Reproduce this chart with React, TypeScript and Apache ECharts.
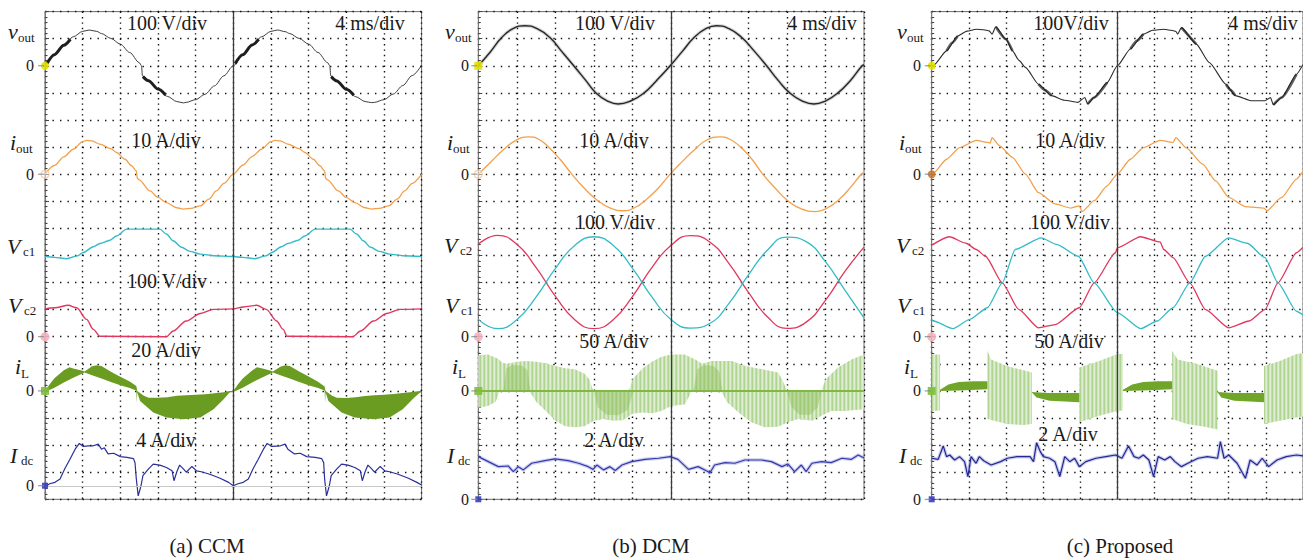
import React, { useEffect, useRef } from "react";
import * as echarts from "echarts";

type Pt = [number, number];
type Band = { upper: Pt[]; lower: Pt[] };

// time base: 4 ms/div, 10 divisions
const timeTicks = [0, 40, 4];

// ---------------- (a) CCM ----------------
const voutCCM: Pt[] = [
  [0, 0], [1, 41], [2, 76], [3, 107], [4, 127], [4.7, 132], [5.5, 127], [6, 119], [7, 101], [8, 80], [9, 49], [10, 12], [10.25, 0], [10.35, -37], [11, -55], [12, -86], [13, -113], [14, -132], [14.7, -137], [15, -135], [16, -125], [17, -105], [18, -74], [19, -37], [20, 0],
  [21, 41], [22, 77], [23, 107], [24, 127], [24.7, 132], [25.5, 126], [26, 119], [27, 101], [28, 80], [29, 49], [30, 12], [30.25, 0], [30.35, -37], [31, -56], [32, -87], [33, -114], [34, -132], [34.7, -136], [35, -135], [36, -125], [37, -104], [38, -73], [39, -36], [40, 2],
];
const voutCCMRipple: Pt[][] = [
  [[0.2, 8], [1, 41], [2, 76], [2.7, 98]],
  [[10.4, -40], [11, -55], [12, -86], [12.8, -108]],
  [[20.2, 8], [21, 41], [22, 77], [22.7, 98]],
  [[30.4, -40], [31, -56], [32, -87], [32.8, -109]],
];
const ioutCCM: Pt[] = [
  [0, 0], [1, 3.2], [2, 6.4], [3, 9.2], [4, 12], [4.4, 12.5], [5, 12.3], [5.8, 11.1], [7, 9.4], [7.6, 8], [8.5, 5.5], [9.2, 3.1], [9.7, 1.2], [9.8, -1.5], [10, -2.1], [11.15, -6.2], [12, -8.6], [12.9, -10.5], [14, -12.4], [14.7, -12.9], [15.5, -12.6], [16.5, -11.7], [17.4, -9.2], [18.2, -6.2], [19, -3.4], [20, 0],
  [21, 3.3], [22, 6.5], [23, 9.2], [24, 12], [24.4, 12.5], [25, 12.3], [25.8, 11.1], [27, 9.4], [27.6, 8], [28.5, 5.5], [29.2, 3.1], [29.7, 1.2], [29.8, -1.5], [30, -2.1], [31.15, -6.2], [32, -8.6], [32.9, -10.5], [34, -12.4], [34.7, -12.9], [35.5, -12.6], [36.5, -11.7], [37.4, -9.2], [38.2, -6.2], [39, -3.4], [40, 0],
];
const vc1CCM: Pt[] = [
  [0, 296], [1, 293], [2.3, 288], [3.5, 299], [4.07, 311], [5.13, 332], [5.84, 344], [6.9, 356], [7.6, 372], [8.67, 397], [12.2, 397], [12.9, 379], [13.6, 354], [14.5, 330], [15.4, 315], [16.5, 305], [17.9, 299], [20, 296],
  [21, 293], [22.3, 288], [23.5, 299], [24.1, 311], [25.1, 332], [25.8, 344], [26.9, 356], [27.6, 372], [28.7, 397], [32.4, 397], [33.1, 379], [33.8, 354], [34.6, 330], [35.5, 315], [36.6, 305], [38, 299], [40, 296],
];
const vc2CCM: Pt[] = [
  [0, 103], [1.06, 107], [2.48, 116], [3.36, 107], [4.42, 64], [5.13, 27], [5.84, 2], [12.9, 0], [13.6, 21], [15, 58], [16.5, 86], [17.9, 101], [20, 103],
  [21.06, 110], [22.5, 116], [23.5, 101], [24.6, 58], [25.3, 27], [25.7, 2], [32.7, 0], [33.5, 21], [34.9, 58], [36.3, 86], [37.7, 101], [40, 103],
];
const iLCCMUpper: Pt[] = [
  [0, 0], [0.5, 5], [1, 9.4], [2, 15.2], [2.6, 17.4], [3, 16.6], [4, 14.8], [4.2, 14.4], [5, 18.2], [5.5, 19], [6, 18.4], [7, 14.2], [8, 10.4], [9, 7], [9.7, 3.6], [9.8, 0], [10.5, -3.6], [11, -5], [12, -5], [13, -4.6], [14, -3.6], [15, -3.2], [16, -2.8], [17, -2.4], [18, -1.8], [19, -1], [19.6, 0], [20, 0],
  [20.5, 5], [21, 9.2], [22, 15], [22.5, 17.4], [23, 16.8], [23.9, 15], [24.2, 14.4], [25, 17.8], [25.5, 19], [26, 18.4], [27, 14.4], [28, 10.6], [29, 6.8], [29.7, 3.2], [29.8, 0], [30.5, -3.6], [31, -5], [32, -5.2], [33, -4.6], [34, -3.8], [35, -3.2], [36, -2.8], [37, -2.2], [38, -1.6], [39, -0.8], [39.8, 0], [40, 0],
];
const iLCCMLower: Pt[] = [
  [0, -0.8], [1, 2.4], [2, 6.2], [3, 9.8], [4.2, 13.6], [5, 11.6], [6, 9.2], [7, 6.6], [8, 4.2], [9, 2.2], [9.7, 0.4], [9.75, -9], [9.8, -1], [10.1, -7.4], [11.5, -16], [12.9, -19.6], [14.7, -21], [16.5, -19.6], [17.9, -13.6], [19, -6], [19.6, -1.2], [20, -0.8],
  [21, 2.4], [22, 6.2], [23, 9.8], [24.2, 13.6], [25, 11.6], [26, 9.2], [27, 6.6], [28, 4.2], [29, 2.2], [29.7, 0.4], [29.75, -9], [29.8, -1], [30.1, -7.4], [31.5, -16], [32.9, -19.6], [34.9, -21], [36.6, -19.6], [38, -13.6], [39.2, -5], [39.9, -0.8], [40, 0],
];
const idcCCM: Pt[] = [
  [0, -0.1], [0.5, 0.3], [1.06, 0.5], [1.6, 1.0], [2.1, 2.5], [2.65, 3.9], [3.2, 5.4], [3.65, 6.25], [4.07, 5.8], [4.6, 5.9], [5.13, 5.9], [5.66, 6.15], [6.0, 5.4], [6.3, 5.6], [6.7, 4.7], [7.3, 4.8], [8, 4.3], [8.7, 4.2], [9.4, 4.0], [9.56, 3.4], [9.7, 1.0], [9.9, -1.5], [10.2, 0], [10.4, 1.5], [11, 2.5], [11.5, 3.2], [12.2, 3.05], [12.9, 2.7], [13.5, 2.2], [13.7, 0.74], [14, 2.07], [14.3, 3.05], [14.7, 2.5], [15, 2.0], [15.6, 2.85], [16.1, 2.2], [16.6, 2.07], [17.5, 1.7], [18.6, 1.1], [19.5, 0.5], [20, 0],
  [20.5, 0.3], [21.06, 0.5], [21.6, 1.0], [22.1, 2.5], [22.65, 3.9], [23.2, 5.4], [23.6, 6.25], [24.1, 5.8], [25, 5.9], [25.5, 6.15], [25.8, 5.4], [26.5, 4.7], [27.1, 4.8], [27.8, 4.3], [28.7, 4.2], [29.4, 4.0], [29.6, 3.4], [29.7, 1.0], [29.9, -1.5], [30.2, 0], [30.4, 1.5], [31, 2.5], [31.5, 3.2], [32.2, 3.05], [32.9, 2.7], [33.5, 2.2], [33.7, 0.74], [34, 2.07], [34.3, 3.05], [34.7, 2.5], [35, 2.0], [35.6, 2.85], [36.1, 2.2], [36.6, 2.07], [37.5, 1.7], [38.6, 1.1], [39.5, 0.5], [40, 0.1],
];

// ---------------- (b) DCM ----------------
const voutDCM: Pt[] = [
  [0, 0], [1.2, 49], [2.45, 105], [3.6, 137], [4.85, 148], [6.1, 137], [7.4, 105], [8.6, 55], [9.9, 0], [11.1, -52], [12.2, -100], [13.4, -130], [14.5, -141], [15.8, -130], [17.2, -100], [18.5, -54], [19.9, 0],
  [21.2, 55], [22.4, 105], [23.6, 137], [24.7, 148], [26, 137], [27.3, 105], [28.6, 55], [29.9, 0], [31.1, -54], [32.3, -100], [33.6, -130], [34.8, -141], [36, -130], [37.3, -100], [38.6, -54], [39.8, 0], [40, 3],
];
const ioutDCM: Pt[] = [
  [0, 0], [1.3, 4.5], [2.6, 9.0], [3.9, 12.5], [5.2, 13.8], [6.3, 12.8], [7.4, 9.6], [8.5, 5.4], [9.7, 0], [11, -5.2], [12.3, -9.5], [13.7, -12.5], [15, -13.5], [16.2, -12.4], [17.4, -9.4], [18.7, -5], [19.9, 0],
  [21.2, 4.8], [22.5, 9.3], [23.7, 12.6], [25, 13.8], [26.1, 12.9], [27.2, 10], [28.4, 5.4], [29.5, 0], [30.8, -5.2], [32.1, -9.8], [33.5, -12.8], [35, -13.8], [36.2, -12.5], [37.4, -9.4], [38.6, -4.9], [39.6, -0.5], [40, 0.8],
];
const vc2DCM: Pt[] = [
  [0, 341], [2, 374], [4, 341], [6, 255], [8, 149], [10, 63], [12, 30], [14, 63], [16, 149], [18, 255], [20, 338],
  [22, 373], [24, 350], [26, 270], [28, 165], [30, 73], [32, 31], [34, 54], [36, 134], [38, 240], [40, 331],
];
const vc1DCM: Pt[] = [
  [0, 64], [2, 30], [4, 63], [6, 147], [8, 252], [10, 337], [12, 369], [14, 337], [16, 252], [18, 147], [20, 63],
  [22, 32], [24, 49], [26, 123], [28, 227], [30, 320], [32, 368], [34, 351], [36, 277], [38, 173], [40, 70],
];
const iLDCMUpper: Pt[] = [
  [0, 66], [1, 67], [2, 60], [2.5, 52], [3, 50], [4, 54], [5, 55], [6, 54], [7, 51], [8, 46], [9, 42], [10, 40], [11, 32], [11.5, 22], [11.9, 1], [15.5, 1], [15.7, 5], [16, 22], [17, 41], [18, 54], [19, 63], [20, 67],
  [21.4, 67], [22.5, 58], [23.2, 50], [24.2, 55], [26.3, 55], [27.7, 46], [29.4, 40], [31.1, 34], [31.6, 18], [32, 1], [35.6, 1], [36, 21], [37.3, 43], [38.7, 58], [40, 67],
];
const iLDCMLower: Pt[] = [
  [0, -31], [1, -28], [1.8, -20], [2.2, -2], [5.3, -2], [5.4, -3], [6, -20], [7, -37], [8, -55], [9, -65], [10, -67], [11, -65], [12, -55], [13, -52], [14, -55], [15, -54], [15.5, -48], [16, -42], [17, -40], [18, -41], [19, -37], [20, -28],
  [21.4, -25], [21.9, -9], [22.1, -1], [25.2, -1], [25.8, -21], [27, -40], [28.3, -58], [29.7, -67], [31.1, -66], [32.1, -58], [33.2, -52], [34.6, -55], [35.6, -46], [36.6, -37], [38, -37], [40, -34],
];
const iLDCMDense: Band[] = [
  { upper: [[2.6, 0], [2.9, 42], [3.5, 48], [4.5, 47], [5.1, 38], [5.4, 0]], lower: [[2.6, 0], [5.4, 0]] },
  { upper: [[12, 0], [16.1, 0]], lower: [[12, 0], [12.4, -30], [13.3, -44], [14.5, -45], [15.5, -35], [16.1, 0]] },
  { upper: [[22.3, 0], [22.7, 40], [23.4, 48], [24.4, 46], [25, 36], [25.3, 0]], lower: [[22.3, 0], [25.3, 0]] },
  { upper: [[32, 0], [35.6, 0]], lower: [[32, 0], [32.5, -30], [33.3, -44], [34.4, -44], [35.2, -30], [35.6, 0]] },
];
const idcDCM: Pt[] = [
  [0, 3.15], [1.04, 2.78], [2.07, 2.41], [3.1, 2.46], [3.63, 2.04], [4.15, 2.41], [4.67, 2.17], [5.53, 2.66], [6.91, 2.85], [7.95, 2.98], [9.33, 2.85], [10.4, 2.66], [11.4, 2.41], [11.9, 2.21], [12.3, 2.53], [13, 2.17], [13.65, 2.41], [14.2, 2.12], [14.9, 2.53], [15.9, 2.78], [17.3, 2.95], [18.7, 3.03], [19.9, 3.15],
  [20.7, 2.95], [21.8, 2.21], [22.8, 2.41], [23.85, 2.04], [24, 1.92], [24.5, 2.53], [25.6, 2.71], [26.6, 2.66], [27.65, 2.9], [29.4, 2.9], [30.4, 2.78], [31.5, 2.41], [32.1, 2.61], [32.8, 2.04], [33.5, 2.53], [34, 2.04], [34.6, 2.66], [35.6, 2.78], [36.6, 2.71], [37.7, 3.03], [38.7, 2.95], [39.4, 3.27], [40, 3.05],
];

// ---------------- (c) Proposed ----------------
const voutProp: Pt[] = [
  [0, 0], [0.2, 2], [1.6, 55], [2.8, 110], [3.8, 128], [4.8, 135], [5.6, 133], [6.2, 129], [6.5, 117], [6.9, 144], [8, 98], [8.7, 55], [9.4, 20], [10.1, -6], [11.5, -68], [12.9, -110], [14.3, -127], [15.75, -135], [16.5, -117], [16.8, -141], [17.5, -117], [18.9, -62], [20, 0],
  [21.4, 62], [22.8, 117], [23.8, 131], [25, 135], [25.8, 131], [26.3, 127], [26.5, 117], [26.9, 141], [28.5, 80], [29.9, 12], [31.7, -68], [32.7, -110], [34.5, -129], [35.9, -129], [36.5, -117], [36.8, -144], [37.7, -117], [39.3, -31], [40, 5],
];
const voutPropRipple: Pt[][] = [
  [[1.6, 55], [2.2, 85], [2.8, 110]],
  [[6.9, 144], [8, 98], [8.7, 55]],
  [[11.5, -68], [12.2, -90], [12.9, -110]],
  [[16.8, -141], [17.5, -117], [18.9, -62]],
  [[21.4, 62], [22.1, 92], [22.8, 117]],
  [[26.9, 141], [28.5, 80]],
  [[31.7, -68], [32.2, -90], [32.7, -110]],
  [[36.8, -144], [37.7, -117], [39.3, -31]],
];
const ioutProp: Pt[] = [
  [0, 0], [0.2, 0.5], [1.6, 5.5], [3, 9.8], [4.8, 12.5], [6, 11.7], [6.3, 11.5], [6.5, 13.5], [7.3, 10.5], [8.7, 6.2], [10.1, 0], [11.5, -6.8], [13.3, -11], [15, -12.5], [15.9, -11.7], [16.2, -13.8], [17.5, -9.8], [18.9, -4.3], [20, 0],
  [21.4, 5.5], [22.8, 9.8], [24.6, 12.5], [26, 11.7], [26.3, 13.5], [27.4, 9.8], [29.2, 3.7], [30.6, -2.5], [32, -8.6], [33.8, -12], [35.8, -12.5], [36.1, -13.5], [37.7, -8.6], [39.3, -1.8], [40, 1],
];
const vc2Prop: Pt[] = [
  [0, 338], [1.9, 369], [3.7, 345], [4.8, 322], [5.8, 297], [7.6, 199], [9.4, 100], [11.5, 33], [13.3, 45], [15.9, 107], [17.5, 199], [19.8, 310], [20, 328],
  [22.5, 369], [24.6, 350], [25, 322], [26, 292], [27.8, 199], [29.5, 100], [32, 33], [34.2, 58], [35.9, 100], [37.3, 199], [39.3, 310], [40, 330],
];
const vc1Prop: Pt[] = [
  [0, 62], [0.2, 58], [2.3, 30], [4.1, 64], [6, 107], [7.6, 199], [9, 322], [11.8, 365], [13.5, 340], [15.8, 297], [17.5, 199], [20, 89],
  [22.5, 30], [24.3, 58], [26, 107], [27.8, 199], [29.5, 297], [32, 365], [34, 345], [35.9, 292], [37.3, 199], [39.3, 94], [40, 80],
];
const iLPropSparse: Band[] = [
  { upper: [[0, 67], [0.9, 67]], lower: [[0, -37], [0.9, -36]] },
  { upper: [[6.0, 74], [6.4, 58], [8.1, 46], [10.8, 34]], lower: [[6.0, -52], [8.1, -61], [9.9, -63], [10.8, -61]] },
  { upper: [[15.9, 43], [18.05, 55], [20, 68], [20.6, 68]], lower: [[15.9, -58], [18.05, -46], [20, -37], [20.6, -36]] },
  { upper: [[25.9, 74], [26.5, 58], [28.7, 49], [30.8, 37]], lower: [[25.9, -52], [27.5, -61], [29.4, -66], [30.8, -71]] },
  { upper: [[35.8, 46], [37.5, 55], [39.3, 68], [40, 70]], lower: [[35.8, -61], [37.5, -55], [39.3, -49], [40, -47]] },
];
const iLPropDense: Band[] = [
  { upper: [[0.9, 2], [1.8, 12], [2.9, 16.5], [4.5, 18], [6.0, 18]], lower: [[0.9, 0], [3, 1], [6.0, 3]] },
  { upper: [[10.8, -2], [12.5, -4], [15.9, -4]], lower: [[10.8, -3], [11.3, -12], [12.7, -18], [15.9, -21]] },
  { upper: [[20.6, 2], [21.6, 12], [22.8, 16.5], [24.4, 18], [25.9, 18]], lower: [[20.6, 0], [22.8, 1], [25.9, 3]] },
  { upper: [[30.8, -2], [32.5, -4], [35.8, -4]], lower: [[30.8, -3], [31.2, -12], [32.6, -18], [35.8, -21]] },
];
const idcProp: Pt[] = [
  [0, 3.03], [0.7, 2.95], [1.24, 3.94], [1.6, 3.15], [1.94, 3.27], [2.47, 2.9], [3.0, 3.15], [3.54, 2.78], [3.9, 1.67], [4.24, 3.15], [4.78, 2.66], [5.13, 3.15], [5.6, 2.85], [6.4, 2.53], [7.43, 2.78], [8.14, 3.03], [9.2, 3.15], [10.6, 3.15], [10.97, 2.78], [11.3, 4.18], [11.7, 3.52], [12.03, 3.15], [12.7, 3.03], [13.27, 2.78], [13.8, 1.67], [14.33, 3.15], [14.87, 2.78], [15.4, 3.03], [15.9, 2.41], [16.6, 2.78], [17.7, 3.03], [18.76, 3.15], [19.8, 3.27],
  [20.5, 3.03], [21.2, 3.94], [21.8, 3.15], [22.3, 3.03], [22.8, 3.27], [23.4, 2.9], [23.9, 1.67], [24.4, 3.15], [25.1, 2.9], [25.7, 3.15], [26.2, 2.78], [26.9, 2.41], [27.6, 2.66], [28.7, 3.03], [29.7, 3.15], [30.8, 3.03], [31.1, 4.26], [31.5, 3.03], [32.0, 3.27], [32.9, 2.66], [33.8, 1.55], [34.3, 2.9], [35.04, 2.53], [35.6, 3.03], [36.3, 2.41], [37.2, 2.9], [38.2, 3.15], [39.3, 3.27], [40, 3.2],
];

// ---------------- layout ----------------
const GRID_TOP = 11.6;
const GRID_H = 487.7;
const ROWS = 18;
const ROW_PX = GRID_H / ROWS;

type PanelDef = {
  left: number; width: number;
  scales: { vout: number; iout: number; vc: number; iL: number; idc: number };
  idcRow: number;
  caption: string; captionX: number;
  labelDx: number; zeroRight: number;
  vcOrder: "c1first" | "c2first";
  scaleTexts: { text: string; x: number; y: number }[];
};

const panels: PanelDef[] = [
  {
    left: 45, width: 376.6, scales: { vout: 100, iout: 10, vc: 100, iL: 20, idc: 4 }, idcRow: 17.5,
    caption: "(a) CCM", captionX: 207, labelDx: 0, zeroRight: 34, vcOrder: "c1first",
    scaleTexts: [
      { text: "100 V/div", x: 167, y: 23 }, { text: "4 ms/div", x: 370, y: 23 },
      { text: "10 A/div", x: 166, y: 140 }, { text: "100 V/div", x: 167, y: 281 },
      { text: "20 A/div", x: 166, y: 350 }, { text: "4 A/div", x: 166, y: 440 },
    ],
  },
  {
    left: 478.3, width: 385.7, scales: { vout: 100, iout: 10, vc: 100, iL: 50, idc: 2 }, idcRow: 18,
    caption: "(b) DCM", captionX: 651, labelDx: 437, zeroRight: 469, vcOrder: "c2first",
    scaleTexts: [
      { text: "100 V/div", x: 615, y: 23 }, { text: "4 ms/div", x: 822, y: 23 },
      { text: "10 A/div", x: 614, y: 140 }, { text: "100 V/div", x: 615, y: 222 },
      { text: "50 A/div", x: 614, y: 341 }, { text: "2 A/div", x: 614, y: 440 },
    ],
  },
  {
    left: 931.7, width: 376.6, scales: { vout: 100, iout: 10, vc: 100, iL: 50, idc: 2 }, idcRow: 18,
    caption: "(c) Proposed", captionX: 1120, labelDx: 889, zeroRight: 921, vcOrder: "c2first",
    scaleTexts: [
      { text: "100V/div", x: 1071, y: 23 }, { text: "4 ms/div", x: 1263, y: 23 },
      { text: "10 A/div", x: 1070, y: 140 }, { text: "100 V/div", x: 1070, y: 222 },
      { text: "50 A/div", x: 1069, y: 341 }, { text: "2 A/div", x: 1068, y: 434 },
    ],
  },
];

const ZERO_ROWS = { vout: 2, iout: 6, vc: 12, iL: 14 };

function chanAxis(gridIndex: number, row: number, s: number) {
  return { gridIndex, type: "value", min: -(ROWS - row) * s, max: row * s, show: false };
}

function lineS(data: Pt[], xi: number, yi: number, color: string, width: number, smooth: number | boolean, z = 4, extra: any = {}) {
  return {
    type: "line", xAxisIndex: xi, yAxisIndex: yi, data, symbol: "none", showSymbol: false,
    smooth, smoothMonotone: "x", silent: true, z, clip: true,
    lineStyle: { color, width }, ...extra,
  };
}

// vertical-stripe texture imitating the switching ripple of the inductor current
function stripeFill(cols: string[], fallback: string): any {
  try {
    const c = document.createElement("canvas");
    c.width = cols.length;
    c.height = 4;
    const ctx = c.getContext("2d");
    if (!ctx) return fallback;
    cols.forEach((col, k) => { ctx.fillStyle = col; ctx.fillRect(k, 0, 1, 4); });
    return { image: c, repeat: "repeat" };
  } catch (e) {
    return fallback;
  }
}

function bandS(blocks: Band[], xi: number, yi: number, fill: any, opacity: number, z: number, extra: any = {}) {
  return {
    type: "custom", xAxisIndex: xi, yAxisIndex: yi, silent: true, z, clip: true,
    data: [[0, 0]],
    renderItem: (_p: any, api: any) => ({
      type: "group",
      children: blocks.map((b) => ({
        type: "polygon",
        shape: { points: [...b.upper, ...[...b.lower].reverse()].map((p) => api.coord(p)) },
        style: { fill, opacity },
      })),
    }),
    ...extra,
  };
}

function marker(xi: number, yi: number, color: string, symbol: string, size: number, hollow = false) {
  return {
    type: "scatter", xAxisIndex: xi, yAxisIndex: yi, data: [[0, 0]], symbol, symbolSize: size,
    silent: true, clip: false, z: 6,
    itemStyle: hollow ? { color: "rgba(255,255,255,0.6)", borderColor: color, borderWidth: 1.2 } : { color, opacity: 0.9 },
  };
}

function txt(text: string, x: number, y: number, size: number, italic = false, align = "left", fill = "#1a1a1a") {
  return {
    type: "text", x, y, silent: true, z: 20,
    style: {
      text,
      font: `${italic ? "italic" : "normal"} normal ${size}px 'Liberation Serif', 'Times New Roman', serif`,
      fill, align, verticalAlign: "middle",
    },
  };
}

function buildOption() {
  const grid: any[] = [];
  const xAxis: any[] = [];
  const yAxis: any[] = [];
  const series: any[] = [];
  const graphic: any[] = [];

  const lightStripes = stripeFill(["#b0d491", "#d0e6bd", "#dfeed3", "#c2dea8"], "#c6e0b0");

  panels.forEach((p, i) => {
    grid.push({ left: p.left, top: GRID_TOP, width: p.width, height: GRID_H, show: true, borderColor: "#6a6a6a", borderWidth: 1, backgroundColor: "transparent" });
    xAxis.push({
      gridIndex: i, type: "value", min: timeTicks[0], max: timeTicks[1], interval: timeTicks[2],
      axisLine: { show: false }, axisTick: { show: false }, axisLabel: { show: false },
      splitLine: { show: true, lineStyle: { color: "#111", width: 1.4, type: [1.4, 4] } },
    });
    const base = i * 6;
    yAxis.push({
      gridIndex: i, type: "value", min: 0, max: ROWS, interval: 1, inverse: true,
      axisLine: { show: true, lineStyle: { color: "#777", width: 1 } },
      axisTick: { show: true, inside: true, length: 4, lineStyle: { color: "#444" } },
      minorTick: { show: true, splitNumber: 5, length: 2.5, lineStyle: { color: "#444" } },
      axisLabel: { show: false },
      splitLine: { show: true, lineStyle: { color: "#111", width: 1.4, type: [1.4, 6.1] } },
    });
    yAxis.push(chanAxis(i, ZERO_ROWS.vout, p.scales.vout));
    yAxis.push(chanAxis(i, ZERO_ROWS.iout, p.scales.iout));
    yAxis.push(chanAxis(i, ZERO_ROWS.vc, p.scales.vc));
    yAxis.push(chanAxis(i, ZERO_ROWS.iL, p.scales.iL));
    yAxis.push(chanAxis(i, p.idcRow, p.scales.idc));

    const yV = base + 1, yI = base + 2, yC = base + 3, yL = base + 4, yD = base + 5;

    const midLine = { silent: true, symbol: "none", label: { show: false }, lineStyle: { color: "#3a3a3a", width: 1.3, type: "solid" }, data: [{ xAxis: 20 }] };

    if (i === 0) {
      series.push(bandS([{ upper: iLCCMUpper, lower: iLCCMLower }], i, yL, "#6a9c22", 1, 2));
      series.push(lineS(voutCCM, i, yV, "#3c3c3c", 1, 0.3, 4, { markLine: midLine }));
      voutCCMRipple.forEach((seg) => series.push(lineS(seg, i, yV, "#1e1e1e", 3, 0.3, 5)));
      series.push(lineS(ioutCCM, i, yI, "#f3a04a", 1.3, 0.3));
      series.push(lineS(vc1CCM, i, yC, "#33bcc6", 1.4, 0.3));
      series.push(lineS(vc2CCM, i, yC, "#e0375e", 1.4, 0.3));
      series.push(lineS(idcCCM, i, yD, "#2a2f9c", 1.2, false, 4, {
        markLine: { silent: true, symbol: "none", label: { show: false }, lineStyle: { color: "#c8c8c8", width: 1, type: "solid" }, data: [{ yAxis: 0 }] },
      }));
    } else if (i === 1) {
      series.push(bandS([{ upper: iLDCMUpper, lower: iLDCMLower }], i, yL, lightStripes, 1, 2, {
        markLine: { silent: true, symbol: "none", label: { show: false }, lineStyle: { color: "#80b840", width: 2, type: "solid" }, data: [{ yAxis: 0 }] },
      }));
      series.push(bandS(iLDCMDense, i, yL, "#8fbf5c", 0.45, 2));
      series.push(lineS(voutDCM, i, yV, "rgba(120,120,120,0.3)", 3.5, 0.5, 3, { smoothMonotone: undefined }));
      series.push(lineS(voutDCM, i, yV, "#262626", 1.4, 0.5, 4, { markLine: midLine, smoothMonotone: undefined }));
      series.push(lineS(ioutDCM, i, yI, "#f3a04a", 1.3, 0.5, 4, { smoothMonotone: undefined }));
      series.push(lineS(vc2DCM, i, yC, "#e0375e", 1.3, 0.5, 4, { smoothMonotone: undefined }));
      series.push(lineS(vc1DCM, i, yC, "#33bcc6", 1.3, 0.5, 4, { smoothMonotone: undefined }));
      series.push(lineS(idcDCM, i, yD, "rgba(90,95,205,0.3)", 3.5, false, 3));
      series.push(lineS(idcDCM, i, yD, "#3438ad", 1.2, false, 4));
    } else {
      series.push(bandS(iLPropSparse, i, yL, lightStripes, 1, 2));
      series.push(bandS(iLPropDense, i, yL, "#6fa62a", 1, 2));
      series.push(lineS(voutProp, i, yV, "#2a2a2a", 1.1, 0.2, 4, { markLine: midLine }));
      voutPropRipple.forEach((seg) => series.push(lineS(seg, i, yV, "rgba(30,30,30,0.7)", 2.6, 0.2, 5)));
      series.push(lineS(ioutProp, i, yI, "#f3a04a", 1.3, 0.2));
      series.push(lineS(vc2Prop, i, yC, "#e0375e", 1.3, 0.2));
      series.push(lineS(vc1Prop, i, yC, "#33bcc6", 1.3, 0.2));
      series.push(lineS(idcProp, i, yD, "rgba(80,85,200,0.3)", 3.5, false, 3));
      series.push(lineS(idcProp, i, yD, "#22288f", 1.2, false, 4));
    }

    series.push(marker(i, yV, "#e4e000", i === 1 ? "rect" : "circle", 8));
    series.push(marker(i, yI, i === 2 ? "#c8782c" : "#f5c49a", "circle", 8, i !== 2));
    series.push(marker(i, yC, "#f4b3c0", "circle", 9));
    series.push(marker(i, yL, "#7fbf3a", "rect", 8));
    series.push(marker(i, yD, "#3a3fc0", "rect", 6));

    const dx = p.labelDx;
    const yRow = (r: number) => GRID_TOP + r * ROW_PX;
    graphic.push(txt("v", 8 + dx, 31, 22, true), txt("out", 18 + dx, 37, 13));
    graphic.push(txt("i", 10 + dx, 142, 22, true), txt("out", 16 + dx, 148, 13));
    const upperV = p.vcOrder === "c1first" ? "c1" : "c2";
    const lowerV = p.vcOrder === "c1first" ? "c2" : "c1";
    const vUpY = i === 0 ? 246 : 245;
    graphic.push(txt("V", 7 + dx, vUpY, 22, true), txt(upperV, 23 + dx, vUpY + 5, 13));
    graphic.push(txt("V", 8 + dx, 305, 22, true), txt(lowerV, 24 + dx, 310, 13));
    graphic.push(txt("i", 15 + dx, 366, 22, true), txt("L", 21 + dx, 373, 13));
    graphic.push(txt("I", 10 + dx, 455, 22, true), txt("dc", 21 + dx, 460, 13));
    const zeros = [yRow(ZERO_ROWS.vout), yRow(ZERO_ROWS.iout), yRow(ZERO_ROWS.vc), yRow(ZERO_ROWS.iL), yRow(p.idcRow)];
    zeros.forEach((zy) => {
      graphic.push(txt("0", p.zeroRight, zy, 16, false, "right"));
      graphic.push({ type: "line", silent: true, z: 19, shape: { x1: p.left - 7, y1: zy, x2: p.left - 1, y2: zy }, style: { stroke: "#888", lineWidth: 1 } });
    });

    p.scaleTexts.forEach((s) => graphic.push(txt(s.text, s.x, s.y, 20, false, "center")));
    graphic.push(txt(p.caption, p.captionX, 546, 21, false, "center"));
  });

  return { animation: false, backgroundColor: "#ffffff", grid, xAxis, yAxis, series, graphic };
}

export default function App() {
  const ref = useRef<HTMLDivElement>(null);
  useEffect(() => {
    if (!ref.current) return;
    const chart = echarts.init(ref.current, undefined, { renderer: "svg" });
    chart.setOption(buildOption() as any);
    return () => chart.dispose();
  }, []);
  return <div ref={ref} style={{ position: "absolute", left: 0, top: 0, width: 1303, height: 559, background: "#fff" }} />;
}
